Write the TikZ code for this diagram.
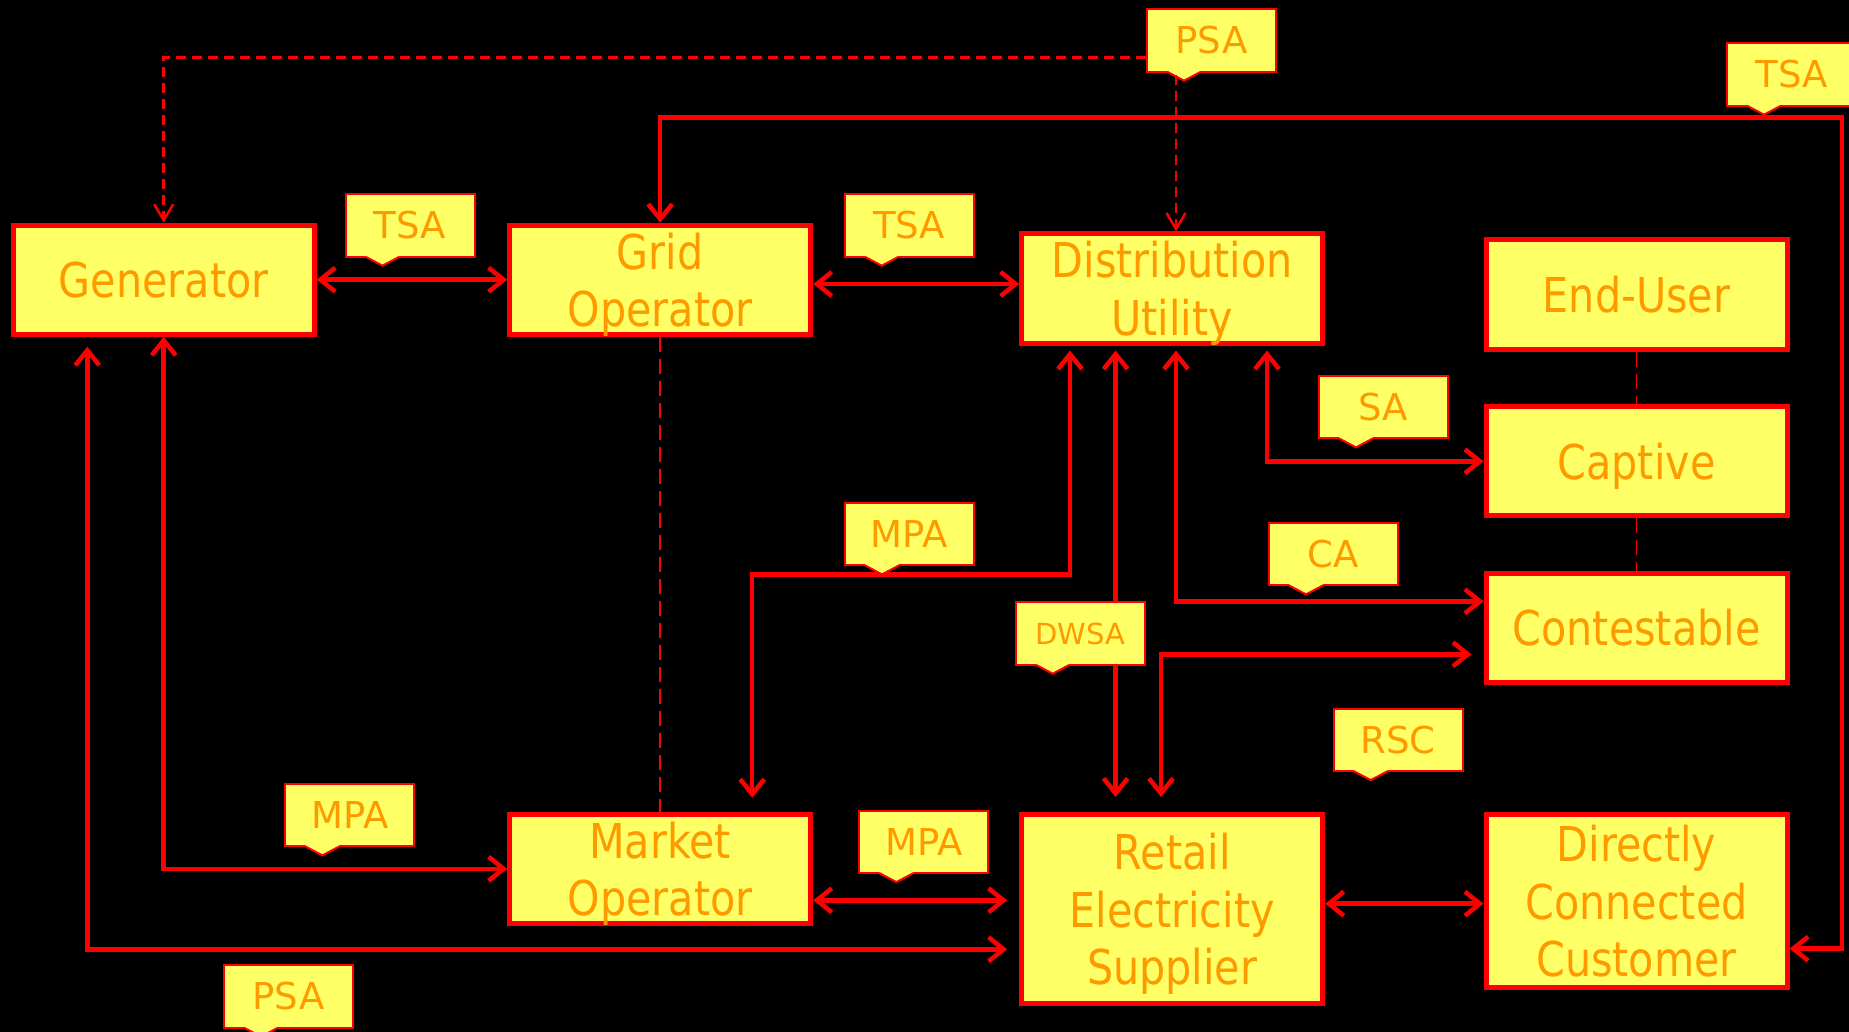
\documentclass[tikz,border=0pt]{standalone}
\usepackage{fontspec}
\setmainfont{DejaVu Sans}
\newfontfamily\boxfam{DejaVu Sans}[FakeStretch=0.86]
\newfontfamily\lblfam{DejaVu Sans}
\usetikzlibrary{arrows.meta,calc}
\definecolor{boxyellow}{HTML}{FFFF66}
\definecolor{txtorange}{HTML}{FF9900}
\definecolor{linered}{HTML}{FF0000}
\newcommand\nodepth[1]{\raisebox{0pt}[\height][0pt]{#1}}
\tikzset{
  mainbox/.style={draw=linered, line width=5pt, fill=boxyellow, text=txtorange,
    font=\boxfam\fontsize{48}{57.5}\selectfont, align=center, inner sep=0pt,
    minimum width=301pt, minimum height=109pt},
  lbl/.style={draw=linered, line width=2pt, fill=boxyellow, text=txtorange,
    font=\lblfam\fontsize{37}{44}\selectfont, inner sep=0pt,
    minimum width=129pt, minimum height=62.4pt},
  conn/.style={draw=linered, line width=4.5pt,
    {Straight Barb[length=15pt,width=24pt]}-{Straight Barb[length=15pt,width=24pt]}},
  dashconn/.style={draw=linered, line width=2.5pt, dash pattern=on 10pt off 6pt,
    -{Straight Barb[length=16pt,width=19pt]}},
  thindash/.style={draw=linered, line width=1.8pt, dash pattern=on 15pt off 7pt},
}
\newcommand\callout[5][]{%
  \node[lbl, anchor=north west, #1] (#2) at (#3,#4) {#5};
  \fill[boxyellow] ($(#2.south west)+(21.5,-2.4)$) -- ($(#2.south west)+(54.5,-2.4)$)
    -- ($(#2.south west)+(55,-1)$) -- ($(#2.south west)+(38,8)$) -- ($(#2.south west)+(21,-1)$) -- cycle;
  \draw[linered, line width=2pt] ($(#2.south west)+(21,-1)$) -- ($(#2.south west)+(38,8)$) -- ($(#2.south west)+(55,-1)$);
}
\begin{document}
\begin{tikzpicture}[x=1pt,y=-1pt]
\fill[black] (0,0) rectangle (1849,1032);
\useasboundingbox (0,0) rectangle (1849,1032);

% main boxes
\node[mainbox] (gen) at (163.7,279.7) {Generator};
\node[mainbox] (grid) at (660.2,279.7) {Grid\\\nodepth{Operator}};
\node[mainbox] (dist) at (1172.2,288.5) {Distribution\\\nodepth{Utility}};
\node[mainbox] (enduser) at (1636.5,294.5) {End-User};
\node[mainbox, text depth=0pt] (captive) at (1636.5,461.3) {Captive};
\node[mainbox] (contest) at (1636.5,627.8) {Contestable};
\node[mainbox] (market) at (660.2,868.8) {Market\\\nodepth{Operator}};
\node[mainbox, minimum height=189pt] (retail) at (1172.2,909) {Retail\\Electricity\\\nodepth{Supplier}};
\node[mainbox, minimum height=173pt] (dcc) at (1636.5,901.2) {Directly\\Connected\\Customer};

\coordinate (tsaR) at (1842,117.7);
\coordinate (psaD) at (1176,75);

% dashed links
\draw[thindash] (grid.south) -- (market.north);
\draw[thindash] (enduser.south) -- (captive.north);
\draw[thindash] (captive.south) -- (contest.north);

% connectors
\draw[conn] (gen.east) -- (grid.west);
\draw[conn] (grid.east |- 0,284) -- (dist.west |- 0,284);
\draw[conn] (grid.north) |- (tsaR) |- (dcc.east |- 0,948.7);
\draw[conn] (gen.south) |- (market.west);
\draw[conn, shorten <=10pt, shorten >=12pt] (87.3,0 |- gen.south) |- (retail.west |- 0,949.3);
\draw[conn, shorten <=5pt, shorten >=14pt] (1070,0 |- dist.south) |- (900,574.3) -| (752.2,0 |- market.north);
\draw[conn, shorten <=5pt, shorten >=15pt] (1115.6,0 |- dist.south) -- (1115.6,0 |- retail.north);
\draw[conn, shorten <=5pt] (1176,0 |- dist.south) |- (contest.west |- 0,601.3);
\draw[conn, shorten <=5pt] (1267,0 |- dist.south) |- (captive.west);
\draw[conn, shorten <=12pt, shorten >=15pt] (contest.west |- 0,654.3) -| (1161,0 |- retail.north);
\draw[conn, shorten >=12pt] (market.east |- 0,900.3) -- (retail.west |- 0,900.3);
\draw[conn] (retail.east |- 0,903.7) -- (dcc.west |- 0,903.7);

% callouts
\callout{tsaA}{344.5}{193.3}{TSA}
\callout{tsaB}{843.7}{193.3}{TSA}
\callout{psaT}{1146}{8.3}{PSA}
\callout{tsaT}{1726}{42.3}{TSA}
\callout{sa}{1318}{375}{SA}
\callout{mpaM}{844}{502}{MPA}
\callout{ca}{1268}{522}{CA}
\callout[font=\lblfam\fontsize{29}{35}\selectfont]{dwsa}{1014.7}{601.3}{DWSA}
\callout{rsc}{1332.7}{707.7}{RSC}
\callout{mpaL}{284.4}{783}{MPA}
\callout{mpaR}{858.4}{809.7}{MPA}
\callout{psaB}{223}{964.3}{PSA}

% PSA dashed links
\draw[dashconn] (psaT.west |- 0,57.3) -| (gen.north);
\draw[dashconn] (psaD) -- (psaD |- dist.north);
\end{tikzpicture}
\end{document}
